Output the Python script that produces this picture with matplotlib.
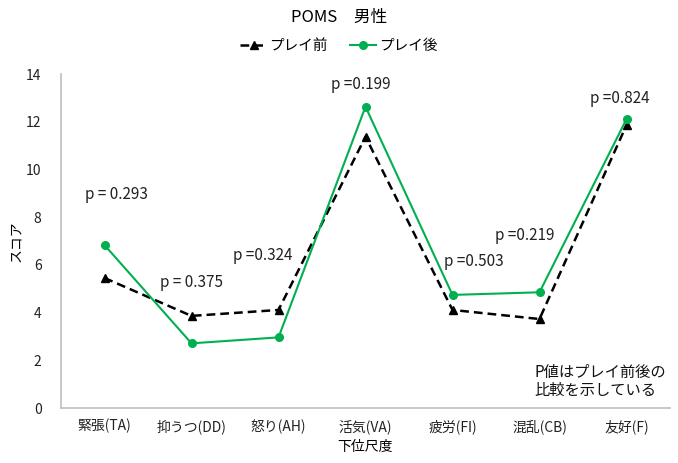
import matplotlib
matplotlib.use("Agg")
import matplotlib.pyplot as plt

plt.rcParams['font.family'] = ['Noto Sans CJK JP', 'DejaVu Sans']

categories = ['緊張(TA)', '抑うつ(DD)', '怒り(AH)', '活気(VA)', '疲労(FI)', '混乱(CB)', '友好(F)']
pre_scores = [5.45, 3.86, 4.11, 11.37, 4.11, 3.73, 11.86]
post_scores = [6.83, 2.71, 2.96, 12.63, 4.74, 4.85, 12.11]
p_labels = ['p = 0.293', 'p = 0.375', 'p =0.324', 'p =0.199', 'p =0.503', 'p =0.219', 'p =0.824']
p_label_pos = [(0.14, 8.97), (1.0, 5.28), (1.82, 6.41), (2.95, 13.58),
               (4.25, 6.16), (4.83, 7.21), (5.92, 12.98)]
y_ticks = [0, 2, 4, 6, 8, 10, 12, 14]

fig = plt.figure(figsize=(6.78, 4.63), dpi=100)
ax = fig.add_axes([61 / 678, 1 - 408 / 463, 609 / 678, 334 / 463])

x = list(range(len(categories)))
ax.plot(x, pre_scores, color='black', linestyle=(0, (3.5, 2)), linewidth=1.8,
        marker='^', markersize=5.5, label='プレイ前')
ax.plot(x, post_scores, color='#00B050', linestyle='-', linewidth=1.5,
        marker='o', markersize=5.5, label='プレイ後')

for text, (px, py) in zip(p_labels, p_label_pos):
    ax.text(px, py, text, ha='center', va='center', fontsize=11, color='#222222')

ax.text(4.94, 1.1, 'P値はプレイ前後の\n比較を示している', ha='left', va='center',
        fontsize=11, color='#111111', linespacing=1.1)

ax.set_xlim(-0.5, len(categories) - 0.5)
ax.set_ylim(0, 14)
ax.set_xticks(x)
ax.set_xticklabels(categories, fontsize=10)
ax.set_yticks(y_ticks)
ax.tick_params(axis='both', length=0, labelsize=10, colors='#222222')
ax.tick_params(axis='y', pad=14)
ax.tick_params(axis='x', pad=8)

for side in ('top', 'right'):
    ax.spines[side].set_visible(False)
for side in ('left', 'bottom'):
    ax.spines[side].set_color('#BFBFBF')
    ax.spines[side].set_linewidth(1.2)

ax.set_ylabel('スコア', fontsize=10, labelpad=2)
ax.set_xlabel('下位尺度', fontsize=10, va='center')
ax.xaxis.set_label_coords(0.5, (408 - 447) / 334)

fig.text(0.5, 1 - 17 / 463, 'POMS　男性', ha='center', va='center', fontsize=12)
fig.legend(loc='center', bbox_to_anchor=(0.5, 1 - 46 / 463), ncol=2, frameon=False,
           fontsize=10.5, handlelength=1.8, columnspacing=1.5, handletextpad=0.2)

fig.savefig('out.png', dpi=100)
